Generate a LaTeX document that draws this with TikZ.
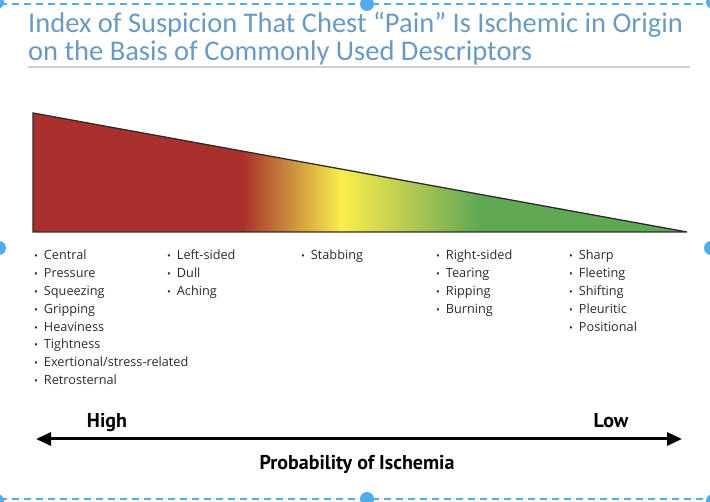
\documentclass[tikz,border=0pt]{standalone}
\usepackage{fontspec}
\setmainfont{Open Sans}
\newfontfamily\titlefont{Carlito}
\newfontfamily\labelfont{PT Sans}
\usetikzlibrary{arrows.meta}
\definecolor{Title}{HTML}{6A9AC2}
\definecolor{Handle}{HTML}{4FADEB}
\definecolor{Rule}{HTML}{D0D0D0}
\definecolor{Ink}{HTML}{2B2B2B}
\definecolor{RedEnd}{HTML}{AA302E}
\definecolor{Amber}{HTML}{C98C3C}
\definecolor{Lemon}{HTML}{FAEE4B}
\definecolor{Lime}{HTML}{B4C852}
\definecolor{Leaf}{HTML}{60A854}
\pgfdeclarehorizontalshading{ischemia}{100bp}{color(0bp)=(RedEnd); color(41bp)=(RedEnd);
  color(44.6bp)=(Amber); color(48.6bp)=(Lemon); color(53.8bp)=(Lime); color(59.1bp)=(Leaf); color(100bp)=(Leaf)}
\newcommand{\bul}{{\normalsize\textbullet}\hspace{6pt}}

\begin{document}
\begin{tikzpicture}[x=1pt,y=-1pt,
  heading/.style={anchor=north west,inner sep=0pt,align=left,text=Title,font=\titlefont\fontsize{28.5}{28}\selectfont},
  column/.style={anchor=north west,inner sep=0pt,align=left,text=Ink,font=\fontsize{12.7}{17.8}\selectfont},
  scalelabel/.style={inner sep=0pt,anchor=base,font=\labelfont\bfseries\fontsize{20}{22}\selectfont},
  handle/.style={circle,fill=Handle,inner sep=0pt,minimum size=14pt},
  frame/.style={draw=Handle,line width=2.5pt,dash pattern=on 6.5pt off 5.5pt},
  arr/.style={{Triangle[length=15pt,width=13pt]}-{Triangle[length=15pt,width=13pt]},line width=3pt}
]
\useasboundingbox (0,0) rectangle (710,502);
% selection frame
\draw[frame] (0,4) -- (710,4);
\draw[frame] (0,499) -- (710,499);
\node[handle] (h-n) at (367,4) {};
\node[handle] (h-s) at (367,499) {};
\node[handle] (h-w) at (-1,248) {};
\node[handle] (h-e) at (711,248) {};
\node[handle] (h-nw) at (-3,2) {};
\node[handle] (h-ne) at (713,2) {};
\node[handle] (h-sw) at (-3,501) {};
\node[handle] (h-se) at (713,501) {};
% title
\node[heading] (title) at (28,12) {Index of Suspicion That Chest “Pain” Is Ischemic in Origin\\on the Basis of Commonly Used Descriptors};
\draw[Rule,line width=1.5pt] (28,67) -- (690,67);
% wedge
\shadedraw[shading=ischemia,draw=Ink,line width=1.3pt] (33,113) -- (687,232) -- (33,232) -- cycle;
% descriptors
\node[column] (col1) at (34,250) {\bul Central\\\bul Pressure\\\bul Squeezing\\\bul Gripping\\\bul Heaviness\\\bul Tightness\\\bul Exertional/stress-related\\\bul Retrosternal};
\node[column] (col2) at (167,250) {\bul Left-sided\\\bul Dull\\\bul Aching};
\node[column] (col3) at (301,250) {\bul Stabbing};
\node[column] (col4) at (436,250) {\bul Right-sided\\\bul Tearing\\\bul Ripping\\\bul Burning};
\node[column] (col5) at (569,250) {\bul Sharp\\\bul Fleeting\\\bul Shifting\\\bul Pleuritic\\\bul Positional};
% probability scale
\coordinate (hi) at (36,439);
\coordinate (lo) at (682,439);
\draw[arr] (hi) -- (lo);
\node[scalelabel] (high) at (107,428) {High};
\node[scalelabel] (low) at (611,428) {Low};
\node[scalelabel] (prob) at (357,470) {Probability of Ischemia};
\end{tikzpicture}
\end{document}
